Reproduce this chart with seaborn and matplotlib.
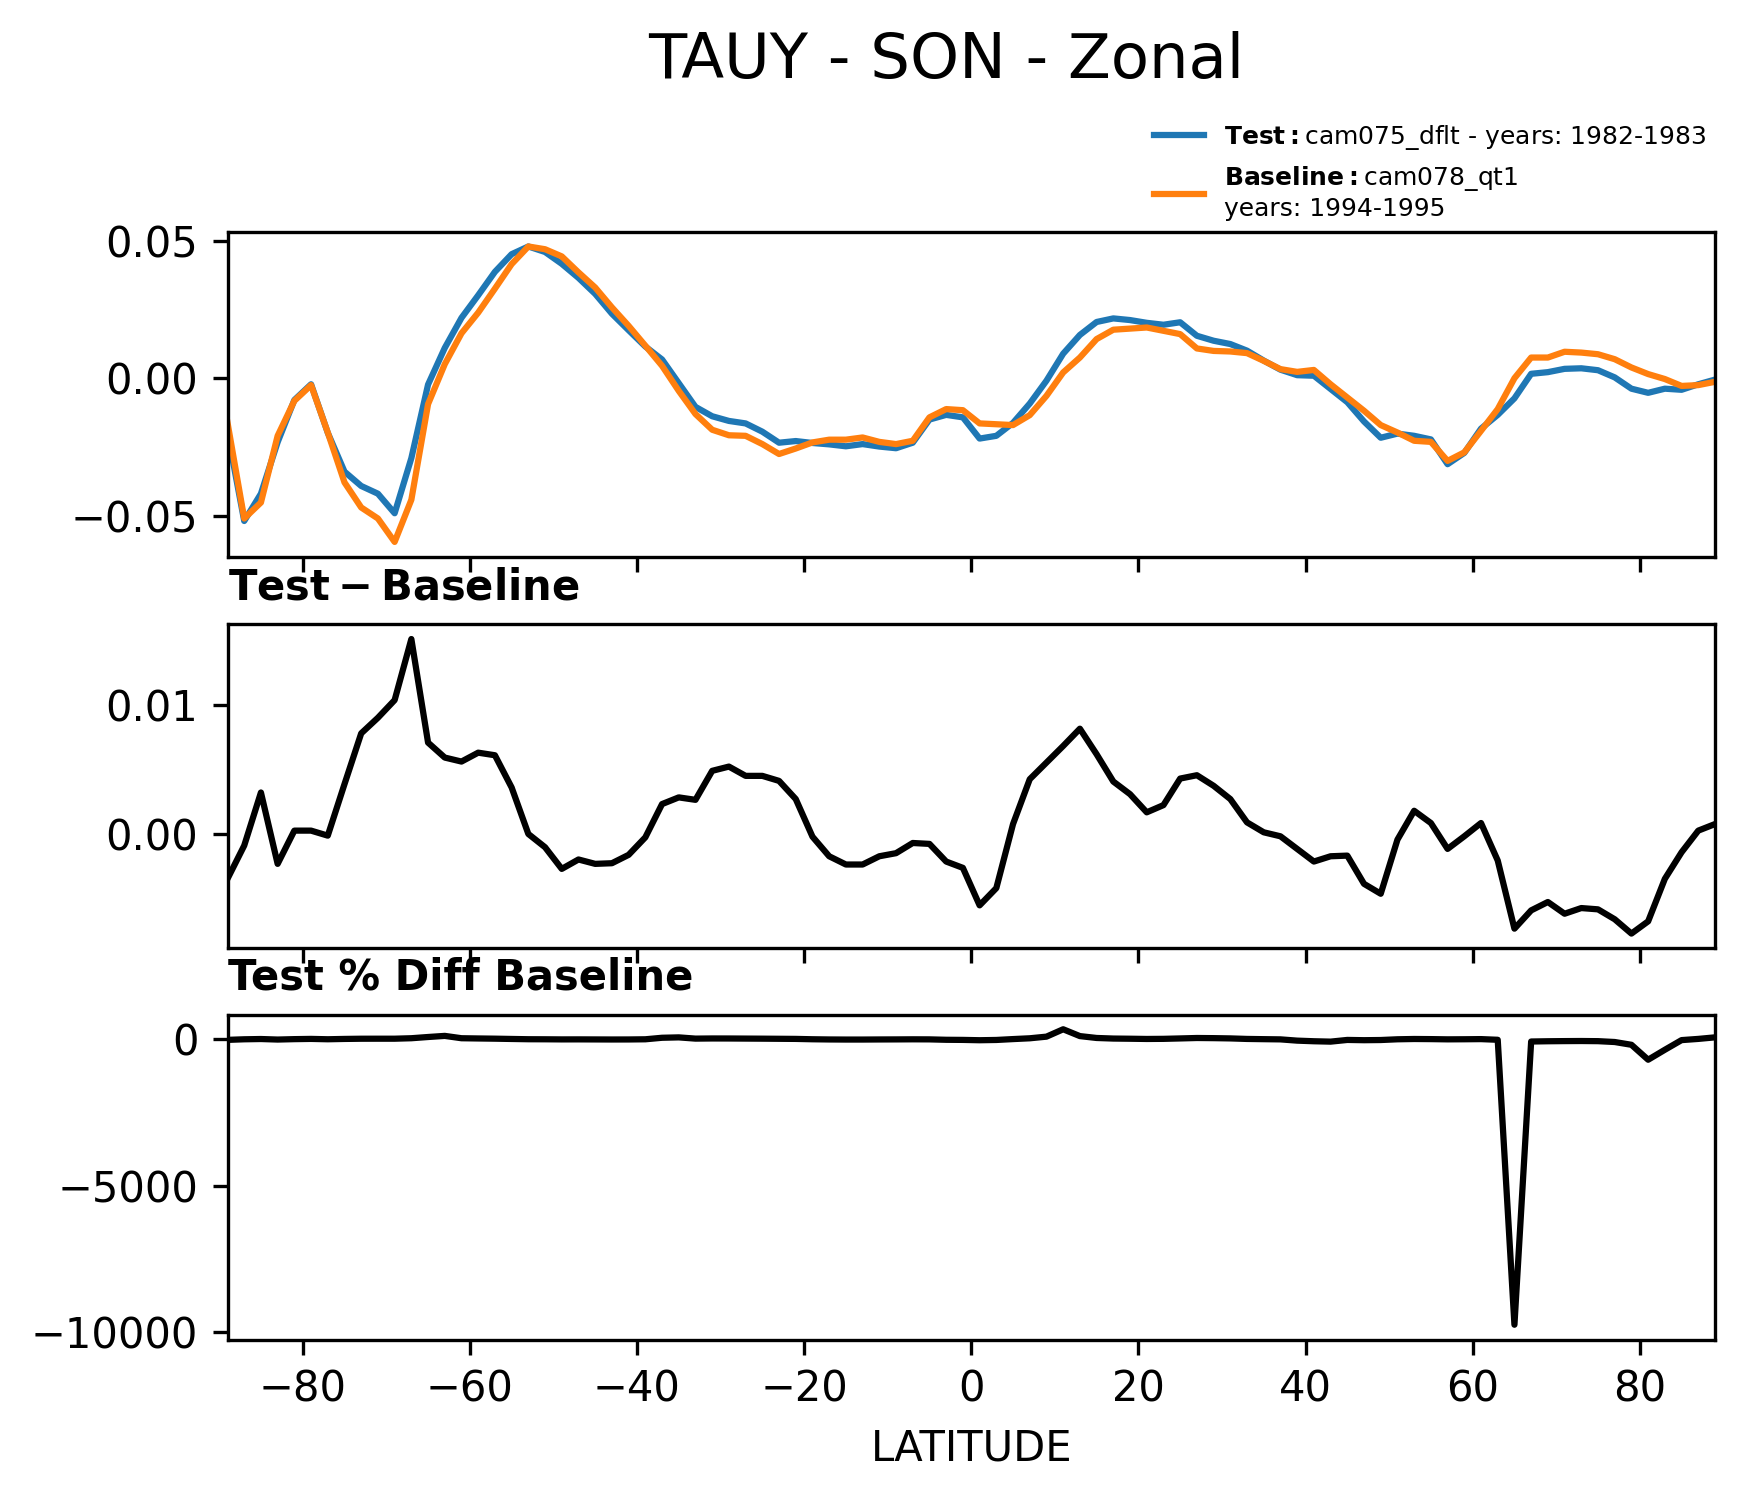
import numpy as np
import pandas as pd
import matplotlib
matplotlib.use("Agg")
import matplotlib.pyplot as plt
import seaborn as sns

# ---------------- data ----------------
lat = list(range(-89, 90, 2))

test = [-0.0195, -0.0517, -0.0418, -0.0231, -0.0078, -0.0021, -0.0197, -0.0338, -0.0390, -0.0418,
        -0.0489, -0.0289, -0.0022, 0.0111, 0.0220, 0.0302, 0.0387, 0.0451, 0.0479, 0.0459,
        0.0416, 0.0365, 0.0307, 0.0235, 0.0175, 0.0116, 0.0069, -0.0017, -0.0103, -0.0137,
        -0.0154, -0.0163, -0.0193, -0.0233, -0.0227, -0.0234, -0.0239, -0.0246, -0.0238, -0.0247,
        -0.0253, -0.0233, -0.0149, -0.0132, -0.0141, -0.0218, -0.0208, -0.0161, -0.0091, -0.0008,
        0.0090, 0.0158, 0.0205, 0.0218, 0.0212, 0.0202, 0.0195, 0.0204, 0.0155, 0.0137,
        0.0125, 0.0101, 0.0065, 0.0032, 0.0012, 0.0010, -0.0038, -0.0086, -0.0156, -0.0215,
        -0.0200, -0.0208, -0.0221, -0.0311, -0.0270, -0.0182, -0.0132, -0.0072, 0.0017, 0.0023,
        0.0035, 0.0037, 0.0030, 0.0004, -0.0037, -0.0052, -0.0037, -0.0041, -0.0021, -0.0004]

baseline = [-0.0160, -0.0508, -0.0450, -0.0208, -0.0081, -0.0024, -0.0196, -0.0377, -0.0468, -0.0508,
            -0.0593, -0.0440, -0.0093, 0.0052, 0.0164, 0.0239, 0.0326, 0.0415, 0.0479, 0.0469,
            0.0443, 0.0385, 0.0330, 0.0258, 0.0191, 0.0119, 0.0046, -0.0045, -0.0129, -0.0186,
            -0.0206, -0.0208, -0.0238, -0.0274, -0.0254, -0.0232, -0.0222, -0.0222, -0.0214, -0.0230,
            -0.0238, -0.0226, -0.0141, -0.0111, -0.0115, -0.0163, -0.0166, -0.0169, -0.0133, -0.0063,
            0.0022, 0.0076, 0.0143, 0.0177, 0.0181, 0.0185, 0.0173, 0.0161, 0.0109, 0.0100,
            0.0098, 0.0092, 0.0064, 0.0034, 0.0024, 0.0031, -0.0021, -0.0069, -0.0117, -0.0169,
            -0.0196, -0.0226, -0.0230, -0.0299, -0.0268, -0.0190, -0.0111, 0.0001, 0.0076, 0.0076,
            0.0097, 0.0094, 0.0088, 0.0070, 0.0040, 0.0016, -0.0002, -0.0027, -0.0024, -0.0012]

diff = [-0.00348, -0.00090, 0.00322, -0.00232, 0.00026, 0.00026, -0.00013, 0.00387, 0.00781, 0.00902,
        0.01039, 0.01513, 0.00709, 0.00593, 0.00562, 0.00631, 0.00611, 0.00361, 0.00000, -0.00103,
        -0.00271, -0.00198, -0.00232, -0.00227, -0.00162, -0.00026, 0.00232, 0.00284, 0.00265, 0.00490,
        0.00523, 0.00451, 0.00451, 0.00412, 0.00271, -0.00021, -0.00173, -0.00237, -0.00237, -0.00173,
        -0.00149, -0.00070, -0.00077, -0.00214, -0.00263, -0.00554, -0.00420, 0.00077, 0.00425, 0.00554,
        0.00683, 0.00817, 0.00619, 0.00407, 0.00309, 0.00168, 0.00224, 0.00430, 0.00456, 0.00374,
        0.00271, 0.00090, 0.00013, -0.00018, -0.00116, -0.00214, -0.00173, -0.00168, -0.00387, -0.00464,
        -0.00044, 0.00180, 0.00085, -0.00116, -0.00018, 0.00085, -0.00206, -0.00735, -0.00593, -0.00528,
        -0.00619, -0.00575, -0.00585, -0.00662, -0.00773, -0.00678, -0.00348, -0.00142, 0.00026, 0.00077]

pct_diff = [-22, -2, 7, -11, 3, 11, -1, 10, 17, 18,
            18, 34, 76, 114, 34, 26, 19, 9, 0, -2,
            -6, -5, -7, -9, -8, -2, 50, 63, 21, 26,
            25, 22, 19, 15, 11, -1, -8, -11, -11, -8,
            -6, -3, -5, -19, -23, -34, -25, 5, 32, 88,
            340, 107, 43, 23, 17, 9, 13, 27, 42, 37,
            28, 10, 2, -5, -48, -69, -82, -24, -33, -27,
            -2, 8, 4, -4, -1, 4, -19, -9750, -78, -69,
            -64, -61, -66, -95, -190, -700, -360, -30, 11, 64]

title = "TAUY - SON - Zonal"
test_label = r"$\bf{Test}:$cam075_dflt - years: 1982-1983"
base_label = r"$\bf{Baseline}:$cam078_qt1" + "\nyears: 1994-1995"

df = pd.DataFrame({"lat": lat, "test": test, "baseline": baseline,
                   "diff": diff, "pct": pct_diff})

# ---------------- figure ----------------
plt.rcParams["font.family"] = ["DejaVu Sans"]
W, H = 1744, 1496
fig = plt.figure(figsize=(W / 300, H / 300), dpi=300)

left, right = 227.5 / W, 1715 / W
wid = right - left


def box(top_px, bot_px):
    return [left, 1 - bot_px / H, wid, (bot_px - top_px) / H]


ax1 = fig.add_axes(box(231.7, 556.7))
ax2 = fig.add_axes(box(624.3, 948.3), sharex=ax1)
ax3 = fig.add_axes(box(1014.5, 1339.5), sharex=ax1)

lw = 1.5
sns.lineplot(data=df, x="lat", y="test", ax=ax1, color="#1f77b4", linewidth=lw,
             label=test_label, legend=False)
sns.lineplot(data=df, x="lat", y="baseline", ax=ax1, color="#ff7f0e", linewidth=lw,
             label=base_label, legend=False)
sns.lineplot(data=df, x="lat", y="diff", ax=ax2, color="black", linewidth=lw, legend=False)
sns.lineplot(data=df, x="lat", y="pct", ax=ax3, color="black", linewidth=lw, legend=False)

ax1.set_xlim(min(lat), max(lat))
for ax in (ax1, ax2, ax3):
    ax.set_ylabel("")
    ax.set_xlabel("")
    ax.tick_params(labelsize=10)
ax1.tick_params(labelbottom=False)
ax2.tick_params(labelbottom=False)

ax1.legend(loc="lower right", bbox_to_anchor=(1.009, 0.963), frameon=False, fontsize=6)

ax2.set_title(r"$\bf{Test} - \bf{Baseline}$", loc="left", fontsize=10)
ax3.set_title("Test % Diff Baseline", loc="left", fontsize=10, fontweight="bold")
ax3.set_xlabel("LATITUDE", fontsize=10)

fig.text(946 / W, 1 - 78.3 / H, title, ha="center", va="baseline", fontsize=15)

fig.savefig("out.png", dpi=300)
